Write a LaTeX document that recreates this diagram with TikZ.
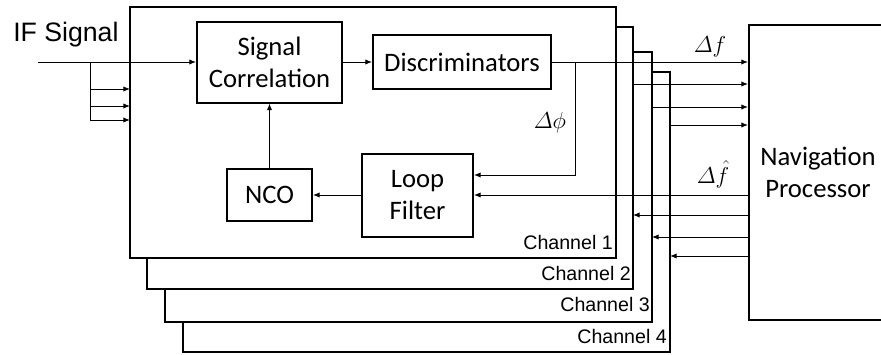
\documentclass[tikz,border=0pt]{standalone}
\usepackage{amsmath}
\usepackage{fontspec}
\setmainfont{Liberation Sans}
\newfontfamily\blocofont{Carlito}
\usetikzlibrary{arrows.meta}

\tikzset{
  bloco/.style={draw, line width=1.5pt, inner sep=0pt, align=center,
    font=\blocofont\fontsize{20}{24}\selectfont},
  canal/.style={draw, line width=1.5pt, fill=white},
  seta/.style={-{Latex[length=5pt,width=4pt]}, line width=0.75pt},
  linha/.style={line width=0.75pt},
  rotulo/.style={font=\fontsize{14.7}{17}\selectfont, anchor=base east, inner sep=0pt},
  delta/.style={font=\fontsize{18}{22}\selectfont, anchor=base, inner sep=0pt}
}

\begin{document}
\begin{tikzpicture}[x=0.75pt, y=-0.75pt]
    % Área do desenho
    \useasboundingbox (0,0) rectangle (881,354);
    \clip (0,0) rectangle (881,354);

    % Canais (de trás para a frente)
    \draw[canal] (183,72) rectangle (670,352);
    \draw[canal] (165,52) rectangle (652,322);
    \draw[canal] (147,27) rectangle (633,289);
    \draw[canal] (130,7) rectangle (616,258);

    % Nomes dos canais
    \node[rotulo] (canal1) at (613,249) {Channel 1};
    \node[rotulo] (canal2) at (631,280) {Channel 2};
    \node[rotulo] (canal3) at (650,311) {Channel 3};
    \node[rotulo] (canal4) at (667,343) {Channel 4};

    % Blocos
    \node[bloco, minimum width=108.75pt, minimum height=60.75pt] (sigcorr) at (269.5,62) {Signal\\Correlation};
    \node[bloco, minimum width=133.5pt, minimum height=40.5pt] (discr) at (462,62) {Discriminators};
    \node[bloco, minimum width=63.75pt, minimum height=39pt] (nco) at (269.5,195) {NCO};
    \node[bloco, minimum width=83.25pt, minimum height=62.25pt] (loop) at (417.5,195) {Loop\\Filter};
    \node[bloco, minimum width=103.5pt, minimum height=221.25pt] (nav) at (818,172.5) {Navigation\\Processor};

    % Entrada do sinal
    \node[anchor=base west, inner sep=0pt, font=\fontsize{20}{24}\selectfont] (ifsig) at (13,41) {IF Signal};
    \coordinate (entrada) at (38,62);
    \coordinate (ramo) at (90,62);
    \coordinate (in2) at (130,89);
    \coordinate (in3) at (130,106);
    \coordinate (in4) at (130,120);
    \draw[seta] (entrada) -- (entrada -| sigcorr.west);
    \draw[linha] (ramo) -- (ramo |- in4);
    \foreach \c in {in2,in3,in4}
      \draw[seta] (ramo |- \c) -- (\c);

    % Malha do canal 1
    \draw[seta] (sigcorr) -- (discr);
    \draw[seta] (discr) -- (discr -| nav.west);
    \coordinate (ramofase) at (575,62);
    \coordinate (fase) at (575,175);
    \draw[seta] (ramofase) -- (fase) -- (fase -| loop.east);
    \draw[seta] (nav.west |- loop.east) -- (loop.east);
    \draw[seta] (loop) -- (nco);
    \draw[seta] (nco) -- (sigcorr);

    % Saídas dos canais 2 a 4
    \coordinate (sai2) at (633,84);
    \coordinate (sai3) at (652,107);
    \coordinate (sai4) at (670,125);
    \foreach \s in {sai2,sai3,sai4}
      \draw[seta] (\s) -- (\s -| nav.west);

    % Retornos para os canais 2 a 4
    \coordinate (ent2) at (633,215);
    \coordinate (ent3) at (652,237);
    \coordinate (ent4) at (670,256);
    \foreach \e in {ent2,ent3,ent4}
      \draw[seta] (nav.west |- \e) -- (\e);

    % Rótulos dos sinais
    \node[delta] (df) at (710,52) {$\varDelta f$};
    \node[delta] (dphi) at (550,128) {$\varDelta\phi$};
    \node[delta] (dfhat) at (713,183) {$\varDelta\hat{f}$};
\end{tikzpicture}
\end{document}
